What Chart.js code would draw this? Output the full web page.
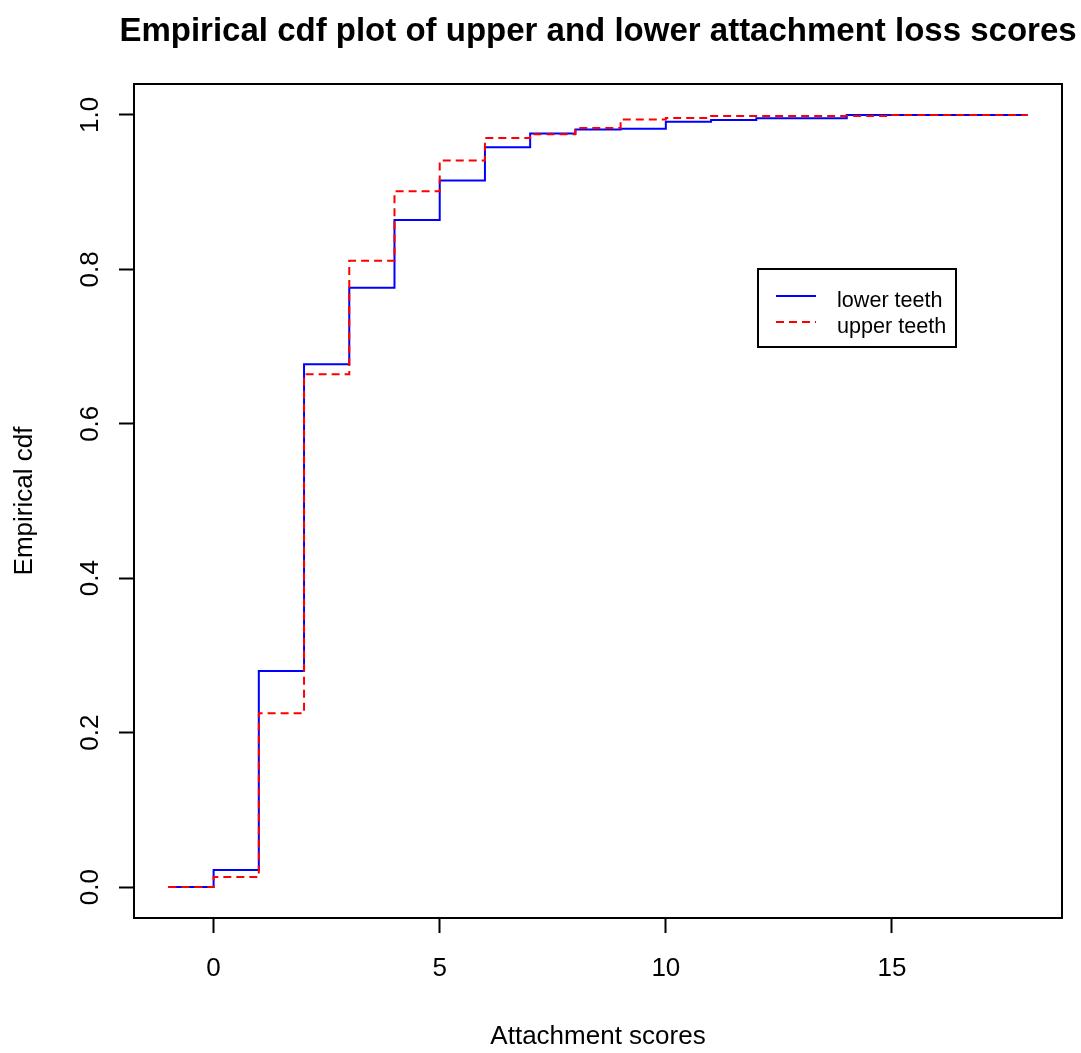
<!DOCTYPE html>
<html>
<head>
<meta charset="utf-8">
<title>Empirical cdf plot of upper and lower attachment loss scores</title>
<script src="https://cdn.jsdelivr.net/npm/chart.js@4/dist/chart.umd.min.js"></script>
<style>
  html, body { margin: 0; padding: 0; background: #ffffff; }
  canvas { display: block; }
</style>
</head>
<body>
<canvas id="ecdf" width="1081" height="1053"></canvas>
<script>
// Attachment loss scores and the empirical cdf reached at each score
const lowerScores = [-1, 0, 1, 2, 3, 4, 5, 6, 7, 8, 9, 10, 11, 12, 14, 18];
const lowerCdf    = [0, 0.022, 0.280, 0.677, 0.776, 0.864, 0.915, 0.958, 0.976, 0.981, 0.982, 0.991, 0.9935, 0.9957, 1.0, 1.0];

const upperScores = [-1, 0, 1, 2, 3, 4, 5, 6, 7, 8, 9, 10, 11, 15, 18];
const upperCdf    = [0, 0.013, 0.225, 0.664, 0.811, 0.901, 0.941, 0.970, 0.975, 0.983, 0.994, 0.996, 0.9987, 1.0, 1.0];

const xTicks = [0, 5, 10, 15];
const yTicks = [0, 0.2, 0.4, 0.6, 0.8, 1.0];

const seriesNames = ['lower teeth', 'upper teeth'];
const titleText = 'Empirical cdf plot of upper and lower attachment loss scores';
const xTitle = 'Attachment scores';
const yTitle = 'Empirical cdf';

const FONT = '"Liberation Sans", Arial, Helvetica, sans-serif';

const toPoints = (xs, ys) => xs.map((x, i) => ({ x: x, y: ys[i] }));

// Frame, rotated y labels, titles and legend box
const decorations = {
  id: 'decorations',
  afterDatasetsDraw(chart) {
    const ctx = chart.ctx;
    const a = chart.chartArea;
    const ys = chart.scales.y;
    ctx.save();

    // full frame around the plotting region
    ctx.strokeStyle = '#000';
    ctx.lineWidth = 2;
    ctx.beginPath();
    ctx.moveTo(a.left, a.bottom);
    ctx.lineTo(a.left, a.top);
    ctx.lineTo(a.right, a.top);
    ctx.lineTo(a.right, a.bottom);
    ctx.lineTo(a.left, a.bottom);
    ctx.stroke();

    // y tick labels, written upwards
    ctx.fillStyle = '#000';
    ctx.font = '26px ' + FONT;
    ctx.textAlign = 'center';
    ctx.textBaseline = 'alphabetic';
    ys.ticks.forEach(t => {
      const py = ys.getPixelForValue(t.value);
      ctx.save();
      ctx.translate(98, py);
      ctx.rotate(-Math.PI / 2);
      ctx.fillText(t.value.toFixed(1), 0, 0);
      ctx.restore();
    });

    // axis titles
    const cx = (a.left + a.right) / 2;
    const cy = (a.top + a.bottom) / 2;
    ctx.fillText(xTitle, cx, 1044);
    ctx.save();
    ctx.translate(32, cy);
    ctx.rotate(-Math.PI / 2);
    ctx.fillText(yTitle, 0, 0);
    ctx.restore();

    // main title
    ctx.font = 'bold 33px ' + FONT;
    ctx.fillText(titleText, cx, 41);

    // legend
    const bx = 758, by = 269, bw = 198, bh = 78;
    ctx.lineWidth = 2;
    ctx.strokeStyle = '#000';
    ctx.strokeRect(bx, by, bw, bh);
    const rows = [296, 322];
    ctx.font = '21.6px ' + FONT;
    ctx.textAlign = 'left';
    [0, 1].forEach(i => {
      const ds = chart.data.datasets[i];
      ctx.strokeStyle = ds.borderColor;
      ctx.lineWidth = ds.borderWidth;
      ctx.setLineDash(ds.borderDash || []);
      ctx.beginPath();
      ctx.moveTo(776, rows[i]);
      ctx.lineTo(816, rows[i]);
      ctx.stroke();
      ctx.setLineDash([]);
      ctx.fillStyle = '#000';
      ctx.fillText(ds.label, 837, rows[i] + 10.5);
    });

    ctx.restore();
  }
};

new Chart(document.getElementById('ecdf'), {
  type: 'line',
  data: {
    datasets: [
      {
        label: seriesNames[0],
        data: toPoints(lowerScores, lowerCdf),
        borderColor: '#0000ff',
        borderWidth: 2,
        stepped: true,
        pointRadius: 0,
        fill: false,
        order: 1
      },
      {
        label: seriesNames[1],
        data: toPoints(upperScores, upperCdf),
        borderColor: '#ff0000',
        borderWidth: 2,
        borderDash: [8, 5],
        stepped: true,
        pointRadius: 0,
        fill: false,
        order: 0
      }
    ]
  },
  options: {
    responsive: false,
    devicePixelRatio: 1,
    animation: false,
    layout: { padding: { left: 100, right: 19, top: 84, bottom: 0 } },
    plugins: {
      legend: { display: false },
      title: { display: false },
      tooltip: { enabled: false }
    },
    scales: {
      x: {
        type: 'linear',
        min: -1.76,
        max: 18.76,
        afterFit(scale) { scale.height = 135; },
        afterBuildTicks(scale) { scale.ticks = xTicks.map(v => ({ value: v })); },
        grid: {
          drawOnChartArea: false,
          drawTicks: true,
          tickLength: 15,
          tickWidth: 2,
          tickColor: '#000'
        },
        border: { display: true, color: '#000', width: 2 },
        ticks: {
          color: '#000',
          font: { family: FONT, size: 26 },
          padding: 20,
          maxRotation: 0,
          callback: v => String(v)
        }
      },
      y: {
        type: 'linear',
        min: -0.04,
        max: 1.04,
        afterFit(scale) { scale.width = 34; },
        afterBuildTicks(scale) { scale.ticks = yTicks.map(v => ({ value: v })); },
        grid: {
          drawOnChartArea: false,
          drawTicks: true,
          tickLength: 15,
          tickWidth: 2,
          tickColor: '#000'
        },
        border: { display: true, color: '#000', width: 2 },
        ticks: { display: false }
      }
    }
  },
  plugins: [decorations]
});
</script>
</body>
</html>
